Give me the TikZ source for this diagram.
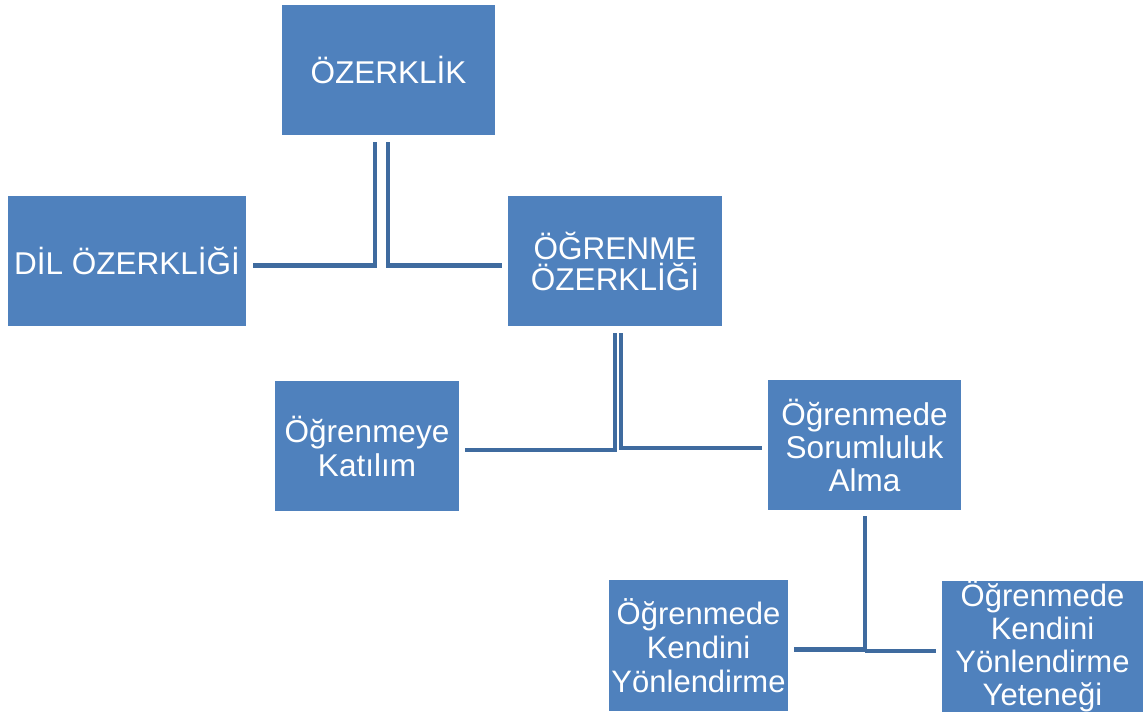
\documentclass[tikz,border=0pt]{standalone}
\usepackage{fontspec}
\setmainfont{Liberation Sans}
\definecolor{boxblue}{HTML}{4F81BD}
\definecolor{linkblue}{HTML}{3F6B9F}
\begin{document}
\begin{tikzpicture}[x=1pt,y=-1pt,
  box/.style={fill=boxblue, draw=none, text=white, inner sep=0pt, align=center,
    font=\fontsize{31.5}{34}\selectfont},
  link/.style={draw=linkblue, line width=4.5pt}]
\useasboundingbox (0,0) rectangle (1145,717);
\node[box, minimum width=213pt, minimum height=130pt] (oz) at (388.5,70) {ÖZERKLİK};
\node[box, minimum width=238pt, minimum height=130pt] (dil) at (127,261) {DİL ÖZERKLİĞİ};
\node[box, minimum width=214pt, minimum height=130pt] (og) at (615,261) {ÖĞRENME\\[-3pt]ÖZERKLİĞİ};
\node[box, minimum width=184pt, minimum height=130pt] (kat) at (367,446) {Öğrenmeye\\Katılım};
\node[box, minimum width=193pt, minimum height=130pt] (sor) at (864.5,445) {Öğrenmede\\[-1pt]Sorumluluk\\[-1pt]Alma};
\node[box, minimum width=179pt, minimum height=131pt, font=\fontsize{31}{34}\selectfont] (ky) at (698.5,645.5) {Öğrenmede\\Kendini\\Yönlendirme};
\node[box, minimum width=201pt, minimum height=131pt, font=\fontsize{31}{33}\selectfont] (kyy) at (1042.5,646.5) {Öğrenmede\\Kendini\\Yönlendirme\\Yeteneği};
% connectors
\coordinate (a1) at (375,142); \coordinate (a2) at (375,265.5); \coordinate (a3) at (253,265.5);
\coordinate (b1) at (388,142); \coordinate (b2) at (388,265.5); \coordinate (b3) at (502,265.5);
\draw[link] (a1) -- (a2) -- (a3);
\draw[link] (b1) -- (b2) -- (b3);
\coordinate (c1) at (614.5,333); \coordinate (c2) at (614.5,449.5); \coordinate (c3) at (465,449.5);
\coordinate (d1) at (620.5,333); \coordinate (d2) at (620.5,448); \coordinate (d3) at (762,448);
\draw[link, line width=4pt] (c1) -- (c2) -- (c3);
\draw[link, line width=4pt] (d1) -- (d2) -- (d3);
\coordinate (e1) at (865,516); \coordinate (e2) at (865,649.5); \coordinate (e3) at (794,649.5);
\coordinate (e4) at (865,651); \coordinate (e5) at (936,651);
\draw[link] (e1) -- (e2) -- (e3);
\draw[link] (e4) -- (e5);
\end{tikzpicture}
\end{document}
